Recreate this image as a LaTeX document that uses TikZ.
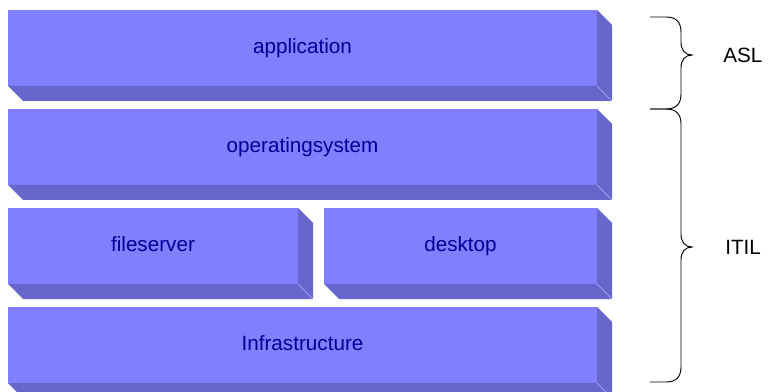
\documentclass[tikz,border=0pt]{standalone}
\usepackage{fontspec}
\setmainfont{Liberation Sans}
\usetikzlibrary{positioning}
\definecolor{layerfront}{HTML}{8080FF}
\definecolor{layerside}{HTML}{6666CC}
\definecolor{layertext}{HTML}{000099}

\begin{document}
\begin{tikzpicture}[x=0.75pt,y=-0.75pt,node distance=17.25pt]
\tikzstyle{layer}=[rectangle, fill=layerfront, text=layertext, minimum height=57pt,
                   text height=11pt, text depth=3pt,
                   inner sep=0pt, outer sep=0pt, font=\fontsize{15.5}{18}\selectfont]
\tikzstyle{wide}=[layer, minimum width=441.75pt]
\tikzstyle{extrude}=[fill=layerside]
\tikzstyle{crease}=[draw=layerfront!55!white, line width=0.4pt]
\tikzstyle{brace}=[draw=black, line width=0.7pt]
\tikzstyle{tag}=[anchor=west, inner sep=0pt, font=\fontsize{15.5}{18}\selectfont]
\useasboundingbox (0,0) rectangle (768,392);
% layers
\node[wide] (app) at (302.5,48) {application};
\node[wide, below=of app] (os) {operatingsystem};
\node[layer, minimum width=217.5pt, below=of os.south west, anchor=north west] (fs) {fileserver};
\node[layer, minimum width=204.75pt, right=19.5pt of fs] (desk) {desktop};
\node[wide, below=of fs.south west, anchor=north west] (infra) {Infrastructure};
% depth
\foreach \n in {app,os,fs,desk,infra}{
  \fill[extrude] (\n.south west) -- ++(15,15) -- ([shift={(15,15)}]\n.south east)
     -- ([shift={(15,15)}]\n.north east) -- (\n.north east) -- (\n.south east) -- cycle;
  \draw[crease] (\n.south east) -- ++(15,15);
}
% braces
\draw[brace] (650,17) -- (666,17) .. controls (676,17) and (681,22) .. (681,32) -- (681,42)
   .. controls (681,50) and (685,55) .. (692,55) .. controls (685,55) and (681,60) .. (681,68)
   -- (681,94) .. controls (681,104) and (676,109) .. (666,109) -- (650,109);
\draw[brace] (650,109) -- (666,109) .. controls (676,109) and (681,114) .. (681,124) -- (681,234)
   .. controls (681,242) and (685,247) .. (692,247) .. controls (685,247) and (681,252) .. (681,260)
   -- (681,367) .. controls (681,377) and (676,382) .. (666,382) -- (650,382);
\node[tag] (asl) at (723,55) {ASL};
\node[tag] (itil) at (725,247) {ITIL};
\end{tikzpicture}
\end{document}
